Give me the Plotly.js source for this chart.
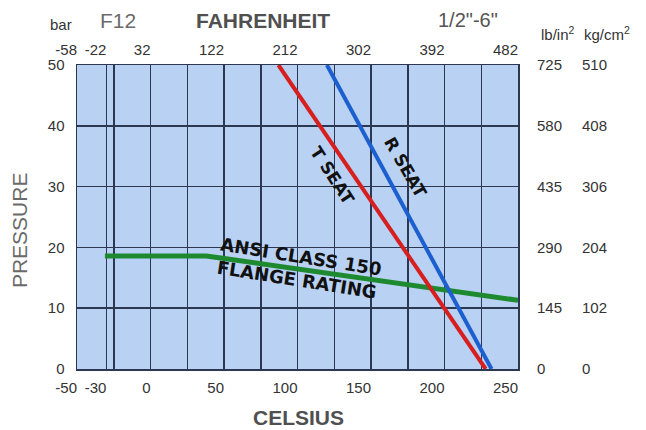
<!DOCTYPE html>
<html>
<head>
<meta charset="utf-8">
<script src="https://cdn.plot.ly/plotly-3.0.1.min.js"></script>
<style>
  html, body { margin: 0; padding: 0; background: #ffffff; }
  #chart { width: 646px; height: 430px; }
</style>
</head>
<body>
<div id="chart"></div>
<script>
// ---- data ----
const celsiusTicks = [-50, -30, 0, 50, 100, 150, 200, 250];
const fahrenheitTicks = [-58, -22, 32, 122, 212, 302, 392, 482];
const gridCelsius = [-30, -25, 0, 25, 50, 75, 100, 125, 150, 175, 200, 225];
const barTicks = [0, 10, 20, 30, 40, 50];
const psiTicks = [0, 145, 290, 435, 580, 725];
const kgTicks = [0, 102, 204, 306, 408, 510];

const tSeatTemp = [87, 228];
const tSeatPressure = [50, 0];
const rSeatTemp = [120, 232];
const rSeatPressure = [50, 0];
const flangeTemp = [-31, 38, 250];
const flangePressure = [18.6, 18.6, 11.3];

// ---- styles ----
const gridColor = '#2c3852';
const tickFont = { family: 'Liberation Sans, Arial, sans-serif', size: 15, color: '#333333' };
const titleFont = { family: 'Liberation Sans, Arial, sans-serif', size: 21, color: '#505050', weight: 'bold' };
const plainTitleFont = { family: 'Liberation Sans, Arial, sans-serif', size: 21, color: '#6a6a6a' };
const seatFont = { family: 'DejaVu Sans, sans-serif', size: 17, color: '#111111', weight: 'bold' };
const flangeFont = { family: 'DejaVu Sans, sans-serif', size: 18, color: '#111111', weight: 'bold' };
const hidden = { mode: 'markers', marker: { opacity: 0, size: 1 }, hoverinfo: 'skip' };

const traces = [
  { x: flangeTemp, y: flangePressure, mode: 'lines', line: { color: '#1e8a30', width: 5 }, xaxis: 'x', yaxis: 'y', hoverinfo: 'skip' },
  { x: tSeatTemp, y: tSeatPressure, mode: 'lines', line: { color: '#d71f1f', width: 4 }, xaxis: 'x', yaxis: 'y', hoverinfo: 'skip' },
  { x: rSeatTemp, y: rSeatPressure, mode: 'lines', line: { color: '#1c5fcf', width: 4 }, xaxis: 'x', yaxis: 'y', hoverinfo: 'skip' },
  // carriers so the secondary unit scales are drawn
  Object.assign({ x: celsiusTicks, y: celsiusTicks.map(() => 0), xaxis: 'x2', yaxis: 'y' }, hidden),
  Object.assign({ x: fahrenheitTicks, y: fahrenheitTicks.map(() => 0), xaxis: 'x3', yaxis: 'y' }, hidden),
  Object.assign({ x: psiTicks.map(() => 0), y: psiTicks, xaxis: 'x', yaxis: 'y2' }, hidden),
  Object.assign({ x: kgTicks.map(() => 0), y: kgTicks, xaxis: 'x', yaxis: 'y3' }, hidden)
];

const layout = {
  width: 646, height: 430,
  margin: { l: 77, r: 128, t: 65, b: 61 },
  paper_bgcolor: '#ffffff',
  plot_bgcolor: '#b9d1f3',
  showlegend: false,
  xaxis: {
    range: [-50, 250], tickmode: 'array', tickvals: gridCelsius, showticklabels: false, ticks: '',
    showgrid: true, gridcolor: gridColor, gridwidth: 1.5, zeroline: false,
    showline: true, mirror: true, linecolor: gridColor, linewidth: 1.5
  },
  xaxis2: {
    overlaying: 'x', anchor: 'y', side: 'bottom', range: [-50, 250],
    tickmode: 'array', tickvals: celsiusTicks, ticktext: celsiusTicks.map(String),
    showgrid: false, zeroline: false, ticks: '', tickangle: 0, ticklabelposition: 'outside left',
    ticklabelstandoff: 8, tickfont: tickFont
  },
  xaxis3: {
    overlaying: 'x', anchor: 'y', side: 'top', range: [-58, 482],
    tickmode: 'array', tickvals: fahrenheitTicks, ticktext: fahrenheitTicks.map(String),
    showgrid: false, zeroline: false, ticks: '', tickangle: 0, ticklabelposition: 'outside left',
    ticklabelstandoff: 6, tickfont: tickFont
  },
  yaxis: {
    range: [0, 50], tickmode: 'array', tickvals: barTicks, ticks: '',
    showgrid: true, gridcolor: gridColor, gridwidth: 1.5, zeroline: false,
    showline: true, mirror: true, linecolor: gridColor, linewidth: 1.5,
    ticklabelstandoff: 8, tickfont: tickFont
  },
  yaxis2: {
    overlaying: 'y', anchor: 'x', side: 'right', range: [0, 725],
    tickmode: 'array', tickvals: psiTicks, ticks: '', showgrid: false, zeroline: false,
    ticklabelstandoff: 18, tickfont: tickFont
  },
  yaxis3: {
    overlaying: 'y', anchor: 'x', side: 'right', range: [0, 510],
    tickmode: 'array', tickvals: kgTicks, ticks: '', showgrid: false, zeroline: false,
    ticklabelstandoff: 63, tickfont: tickFont
  },
  annotations: [
    { text: 'CELSIUS', xref: 'paper', yref: 'paper', x: 0.503, y: -0.158, xanchor: 'center', yanchor: 'middle', showarrow: false, font: titleFont },
    { text: 'PRESSURE', xref: 'paper', yref: 'paper', x: -0.1315, y: 0.457, xanchor: 'center', yanchor: 'middle', textangle: -90, showarrow: false, font: plainTitleFont },
    { text: 'FAHRENHEIT', xref: 'paper', yref: 'paper', x: 0.422, y: 1.148, xanchor: 'center', yanchor: 'middle', showarrow: false, font: titleFont },
    { text: 'F12', xref: 'paper', yref: 'paper', x: 0.093, y: 1.148, xanchor: 'center', yanchor: 'middle', showarrow: false, font: plainTitleFont },
    { text: '1/2"-6"', xref: 'paper', yref: 'paper', x: 0.887, y: 1.148, xanchor: 'center', yanchor: 'middle', showarrow: false, font: { family: 'Liberation Sans, Arial, sans-serif', size: 20, color: '#555555' } },
    { text: 'bar', xref: 'paper', yref: 'paper', x: -0.036, y: 1.1316, xanchor: 'center', yanchor: 'middle', showarrow: false, font: tickFont },
    { text: 'lb/in<sup>2</sup>', xref: 'paper', yref: 'paper', x: 1.0476, y: 1.105, xanchor: 'left', yanchor: 'middle', showarrow: false, font: tickFont },
    { text: 'kg/cm<sup>2</sup>', xref: 'paper', yref: 'paper', x: 1.145, y: 1.105, xanchor: 'left', yanchor: 'middle', showarrow: false, font: tickFont },
    { text: 'T SEAT', xref: 'x', yref: 'y', x: 123.5, y: 31.9, xanchor: 'center', yanchor: 'middle', textangle: 57, showarrow: false, font: seatFont },
    { text: 'R SEAT', xref: 'x', yref: 'y', x: 173.8, y: 33.1, xanchor: 'center', yanchor: 'middle', textangle: 60, showarrow: false, font: seatFont },
    { text: 'ANSI CLASS 150<br>FLANGE RATING', xref: 'x', yref: 'y', x: 101.3, y: 16.6, xanchor: 'center', yanchor: 'middle', align: 'left', textangle: 9, showarrow: false, font: flangeFont }
  ]
};

Plotly.newPlot('chart', traces, layout, { displayModeBar: false, staticPlot: true });
</script>
</body>
</html>
